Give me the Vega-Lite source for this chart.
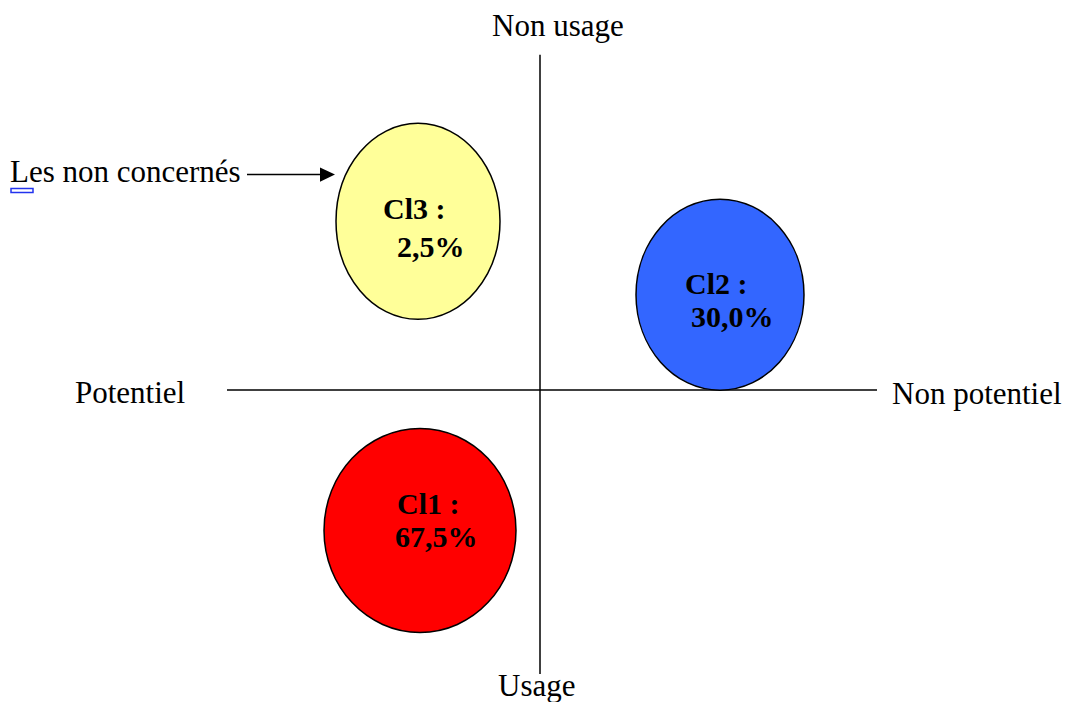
{
  "$schema": "https://vega.github.io/schema/vega-lite/v6.json",
  "autosize": {"type": "fit", "contains": "padding"},
  "width": 1068,
  "height": 702,
  "padding": 0,
  "background": "white",
  "config": {"view": {"stroke": null}},
  "datasets": {
    "lines": [
      {"x": -313, "y": 0, "x2": 337, "y2": 0},
      {"x": 0, "y": 336, "x2": 0, "y2": -285},
      {"x": -293, "y": 216, "x2": -215, "y2": 216}
    ],
    "clusters": [
      {"cluster": "Cl1", "x": -120, "y": -141},
      {"cluster": "Cl2", "x": 180, "y": 95.5},
      {"cluster": "Cl3", "x": -122, "y": 169}
    ],
    "labels": [
      {"text": "Non usage", "x": -48, "y": 355},
      {"text": "Usage", "x": -42, "y": -307},
      {"text": "Potentiel", "x": -465, "y": -13},
      {"text": "Non potentiel", "x": 352, "y": -14},
      {"text": "Les non concernés", "x": -530, "y": 208}
    ],
    "clusterLabels": [
      {"text": "Cl3 :", "x": -157, "y": 171},
      {"text": "2,5%", "x": -143, "y": 133},
      {"text": "Cl2 :", "x": 145, "y": 96},
      {"text": "30,0%", "x": 151, "y": 63},
      {"text": "Cl1 :", "x": -143, "y": -124},
      {"text": "67,5%", "x": -145, "y": -158}
    ],
    "arrowhead": [{"x": -212.5, "y": 216}],
    "marker": [{"x": -529, "y": 202, "x2": -507, "y2": 198}]
  },
  "layer": [
    {
      "data": {"name": "lines"},
      "mark": {"type": "rule", "color": "black", "strokeWidth": 1.5},
      "encoding": {
        "x": {"field": "x", "type": "quantitative", "scale": {"domain": [-540, 528], "nice": false, "zero": false}, "axis": null},
        "y": {"field": "y", "type": "quantitative", "scale": {"domain": [-311, 391], "nice": false, "zero": false}, "axis": null},
        "x2": {"field": "x2"},
        "y2": {"field": "y2"}
      }
    },
    {
      "data": {"name": "arrowhead"},
      "mark": {"type": "point", "filled": true, "color": "black", "opacity": 1, "size": 225, "shape": "M-1,-0.95L1,0L-1,0.95Z"},
      "encoding": {
        "x": {"field": "x", "type": "quantitative"},
        "y": {"field": "y", "type": "quantitative"}
      }
    },
    {
      "data": {"name": "marker"},
      "mark": {"type": "rect", "fill": null, "stroke": "#2233ee", "strokeWidth": 1.5},
      "encoding": {
        "x": {"field": "x", "type": "quantitative"},
        "y": {"field": "y", "type": "quantitative"},
        "x2": {"field": "x2"},
        "y2": {"field": "y2"}
      }
    },
    {
      "data": {"name": "clusters"},
      "mark": {"type": "point", "filled": true, "opacity": 1, "stroke": "black", "strokeWidth": 1.5, "size": 40000},
      "encoding": {
        "x": {"field": "x", "type": "quantitative"},
        "y": {"field": "y", "type": "quantitative"},
        "color": {"field": "cluster", "type": "nominal", "scale": {"domain": ["Cl1", "Cl2", "Cl3"], "range": ["#FF0000", "#3366FF", "#FFFF99"]}, "legend": null},
        "shape": {"field": "cluster", "type": "nominal", "scale": {"domain": ["Cl1", "Cl2", "Cl3"], "range": [
          "M0.96,0C0.96,0.5633,0.5302,1.02,0,1.02C-0.5302,1.02,-0.96,0.5633,-0.96,0C-0.96,-0.5633,-0.5302,-1.02,0,-1.02C0.5302,-1.02,0.96,-0.5633,0.96,0Z",
          "M0.84,0C0.84,0.5274,0.4639,0.955,0,0.955C-0.4639,0.955,-0.84,0.5274,-0.84,0C-0.84,-0.5274,-0.4639,-0.955,0,-0.955C0.4639,-0.955,0.84,-0.5274,0.84,0Z",
          "M0.82,0C0.82,0.5413,0.4529,0.98,0,0.98C-0.4529,0.98,-0.82,0.5413,-0.82,0C-0.82,-0.5413,-0.4529,-0.98,0,-0.98C0.4529,-0.98,0.82,-0.5413,0.82,0Z"
        ]}, "legend": null}
      }
    },
    {
      "data": {"name": "labels"},
      "mark": {"type": "text", "align": "left", "baseline": "alphabetic", "font": "Liberation Serif", "fontSize": 31, "color": "black"},
      "encoding": {
        "x": {"field": "x", "type": "quantitative"},
        "y": {"field": "y", "type": "quantitative"},
        "text": {"field": "text"}
      }
    },
    {
      "data": {"name": "clusterLabels"},
      "mark": {"type": "text", "align": "left", "baseline": "alphabetic", "font": "Liberation Serif", "fontWeight": "bold", "fontSize": 30, "color": "black"},
      "encoding": {
        "x": {"field": "x", "type": "quantitative"},
        "y": {"field": "y", "type": "quantitative"},
        "text": {"field": "text"}
      }
    }
  ]
}
